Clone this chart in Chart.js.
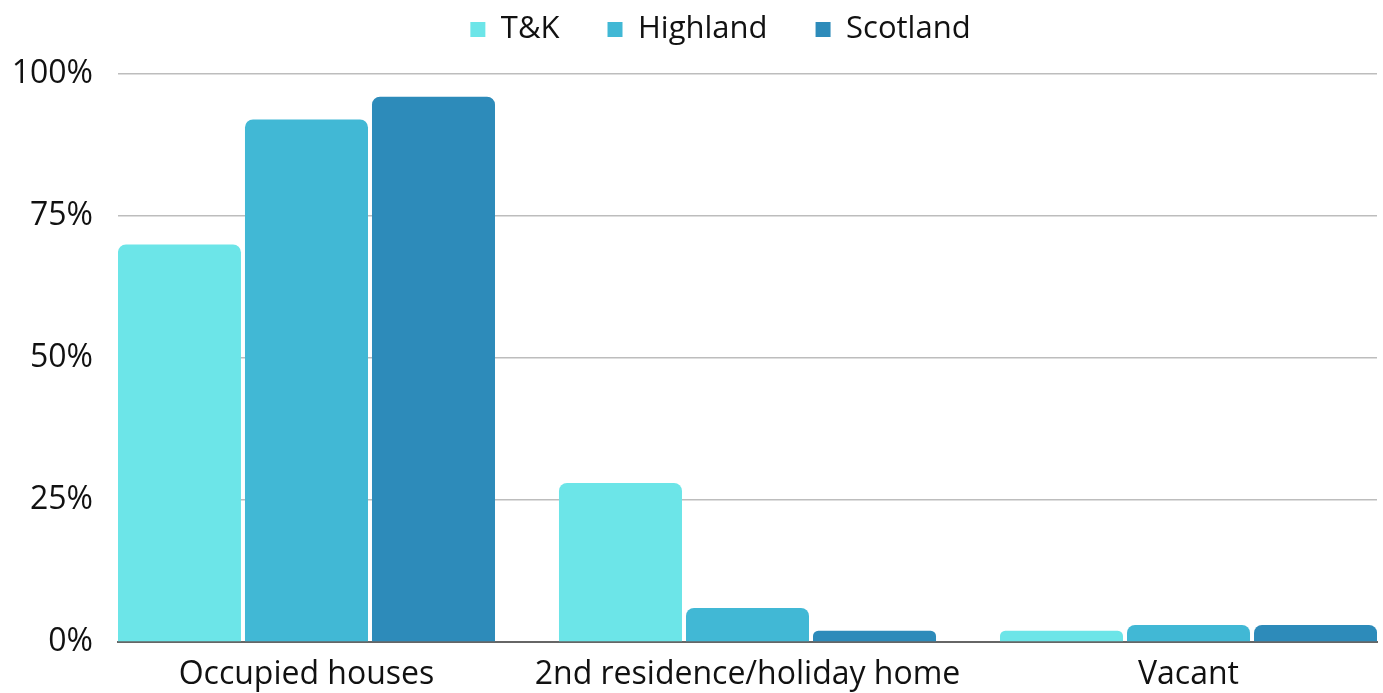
<!DOCTYPE html>
<html>
<head>
<meta charset="utf-8">
<script src="https://cdn.jsdelivr.net/npm/chart.js@4/dist/chart.umd.min.js"></script>
<style>
  html, body { margin: 0; padding: 0; background: #ffffff; }
  #wrap { width: 1383px; height: 693px; position: relative; }
</style>
</head>
<body>
<div id="wrap"><canvas id="c" width="1383" height="693"></canvas></div>
<script>
const categories = ['Occupied houses', '2nd residence/holiday home', 'Vacant'];
const seriesNames = ['T&K', 'Highland', 'Scotland'];
const tkValues = [70, 28, 2];
const highlandValues = [92, 6, 3];
const scotlandValues = [96, 2, 3];
const seriesColors = ['#6ce5e8', '#41b8d5', '#2d8bba'];
const yTicks = [0, 25, 50, 75, 100];

const FONT = '"Open Sans", sans-serif';

function toPoints(vals) { return vals.map((v, i) => ({ x: i, y: v })); }

const legendTweak = {
  id: 'legendTweak',
  beforeInit(chart) {
    const lg = chart.legend;
    const origFit = lg.fit.bind(lg);
    lg.fit = function () { origFit(); this.height = 108; };
  },
  afterLayout(chart) {
    const lg = chart.legend;
    lg.left += 32; lg.right += 32;
  }
};

new Chart(document.getElementById('c'), {
  type: 'bar',
  data: {
    datasets: [
      { label: seriesNames[0], data: toPoints(tkValues), backgroundColor: seriesColors[0] },
      { label: seriesNames[1], data: toPoints(highlandValues), backgroundColor: seriesColors[1] },
      { label: seriesNames[2], data: toPoints(scotlandValues), backgroundColor: seriesColors[2] }
    ]
  },
  options: {
    responsive: false,
    animation: false,
    devicePixelRatio: 1,
    layout: { padding: { top: -34, right: 6, bottom: 0, left: 0 } },
    datasets: {
      bar: {
        categoryPercentage: 0.864,
        barPercentage: 0.9685,
        borderRadius: { topLeft: 8, topRight: 8, bottomLeft: 0, bottomRight: 0 },
        borderSkipped: 'bottom'
      }
    },
    plugins: {
      legend: {
        position: 'top',
        align: 'center',
        labels: {
          boxWidth: 15,
          boxHeight: 15,
          padding: 48,
          color: '#111111',
          font: { family: FONT, size: 31 }
        }
      },
      tooltip: { enabled: false }
    },
    scales: {
      x: {
        type: 'linear',
        offset: false,
        bounds: 'ticks',
        min: -0.4274,
        max: 2.4274,
        afterBuildTicks(scale) { scale.ticks = categories.map((c, i) => ({ value: i })); },
        afterFit(scale) { scale.height = 51; },
        grid: { display: false, drawTicks: false },
        border: { display: true, color: '#666666', width: 2 },
        ticks: {
          padding: 14,
          color: '#111111',
          font: { family: FONT, size: 32 },
          maxRotation: 0,
          autoSkip: false,
          callback(v) { return categories[v]; }
        }
      },
      y: {
        min: 0,
        max: 100,
        afterBuildTicks(scale) { scale.ticks = yTicks.map(v => ({ value: v })); },
        afterFit(scale) { scale.width = 118; },
        grid: { color: '#bdbdbd', lineWidth: 1.5, drawTicks: false },
        border: { display: false },
        ticks: {
          padding: 25,
          color: '#111111',
          font: { family: FONT, size: 32 },
          callback(v) { return v + '%'; }
        }
      }
    }
  },
  plugins: [legendTweak]
});
</script>
</body>
</html>
